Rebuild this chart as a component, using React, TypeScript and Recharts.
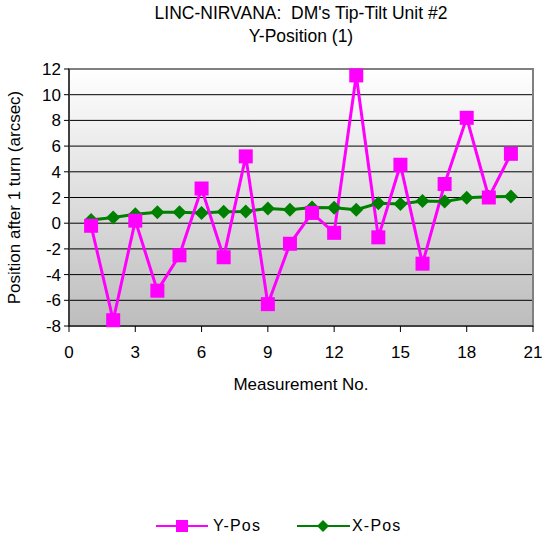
import { LineChart, Line, XAxis, YAxis, CartesianGrid, ReferenceArea, Legend, Label } from 'recharts'

const measurementNo = [1, 2, 3, 4, 5, 6, 7, 8, 9, 10, 11, 12, 13, 14, 15, 16, 17, 18, 19, 20]
const yPos = [-0.2, -7.55, 0.2, -5.25, -2.5, 2.7, -2.65, 5.2, -6.3, -1.6, 0.8, -0.75, 11.5, -1.1, 4.55, -3.15, 3.05, 8.2, 2.0, 5.4]
const xPos = [0.25, 0.45, 0.7, 0.85, 0.85, 0.8, 0.9, 0.92, 1.15, 1.05, 1.22, 1.2, 1.05, 1.55, 1.5, 1.72, 1.68, 1.98, 2.05, 2.08]

const xTicks = [0, 3, 6, 9, 12, 15, 18, 21]
const yTicks = [-8, -6, -4, -2, 0, 2, 4, 6, 8, 10, 12]

const data = measurementNo.map((n, i) => ({ n, y: yPos[i], x: xPos[i] }))

const FONT = '"Liberation Sans", Arial, sans-serif'

const SquareDot = (p: any) => (
  <rect key={p.index} x={p.cx - 7} y={p.cy - 7} width={14} height={14} fill="#ff00ff" />
)

const DiamondDot = (p: any) => (
  <polygon
    key={p.index}
    points={`${p.cx},${p.cy - 7} ${p.cx + 7},${p.cy} ${p.cx},${p.cy + 7} ${p.cx - 7},${p.cy}`}
    fill="#008000"
  />
)

// legend drawn by hand so the markers sit on the line like the original
const renderLegend = () => (
  <div style={{ display: 'flex', alignItems: 'center', paddingLeft: 156, fontSize: 16, letterSpacing: 1.2, fontFamily: FONT, height: 20 }}>
    <svg width={52} height={14}>
      <line x1={0} y1={7} x2={52} y2={7} stroke="#ff00ff" strokeWidth={2} />
      <rect x={20} y={1} width={12} height={12} fill="#ff00ff" />
    </svg>
    <span style={{ marginLeft: 5, width: 84 }}>Y-Pos</span>
    <svg width={53} height={14}>
      <line x1={0} y1={7} x2={53} y2={7} stroke="#008000" strokeWidth={2} />
      <polygon points="26,1 32,7 26,13 20,7" fill="#008000" />
    </svg>
    <span style={{ marginLeft: 2 }}>X-Pos</span>
  </div>
)

export default function App() {
  return (
    <div style={{ position: 'absolute', left: 0, top: 0, width: 542, height: 542, background: '#fff', fontFamily: FONT }}>
      <div style={{ position: 'absolute', left: 0, top: 2, width: 602, textAlign: 'center', fontSize: 17.5, lineHeight: '23px', whiteSpace: 'pre' }}>
        {'LINC-NIRVANA:  DM\'s Tip-Tilt Unit #2\nY-Position (1)'}
      </div>
      <LineChart
        width={542}
        height={542}
        data={data}
        margin={{ top: 69, right: 9, left: 29, bottom: 166 }}
        style={{ fontFamily: FONT }}
      >
        <defs>
          <linearGradient id="bg" x1="0" y1="0" x2="0" y2="1">
            <stop offset="0%" stopColor="#ffffff" />
            <stop offset="100%" stopColor="#bdbdbd" />
          </linearGradient>
        </defs>
        <CartesianGrid vertical={false} stroke="#000" strokeOpacity={1} fill="url(#bg)" fillOpacity={1} />
        <ReferenceArea x1={0} x2={21} y1={-8} y2={12} fill="none" stroke="#808080" strokeWidth={2} ifOverflow="visible" />
        <XAxis
          dataKey="n"
          type="number"
          domain={[0, 21]}
          ticks={xTicks}
          interval={0}
          height={30}
          stroke="#000"
          tickSize={6}
          tickMargin={14}
          tick={{ fill: '#000', fontSize: 17 }}
        >
          <Label value="Measurement No." position="bottom" offset={22} fill="#000" fontSize={17} />
        </XAxis>
        <YAxis
          type="number"
          domain={[-8, 12]}
          ticks={yTicks}
          interval={0}
          width={40}
          stroke="#000"
          tickSize={5}
          tickMargin={3}
          tick={{ fill: '#000', fontSize: 17 }}
        >
          <Label
            value="Position after 1 turn (arcsec)"
            angle={-90}
            position="insideLeft"
            offset={-15}
            fill="#000"
            fontSize={17}
            style={{ textAnchor: 'middle' }}
          />
        </YAxis>
        <Line
          dataKey="x"
          name="X-Pos"
          stroke="#008000"
          strokeWidth={3}
          dot={DiamondDot}
          activeDot={false}
          isAnimationActive={false}
        />
        <Line
          dataKey="y"
          name="Y-Pos"
          stroke="#ff00ff"
          strokeWidth={3}
          dot={SquareDot}
          activeDot={false}
          isAnimationActive={false}
        />
        <Legend content={renderLegend} wrapperStyle={{ top: 516, left: 0, width: 542 }} />
      </LineChart>
    </div>
  )
}
